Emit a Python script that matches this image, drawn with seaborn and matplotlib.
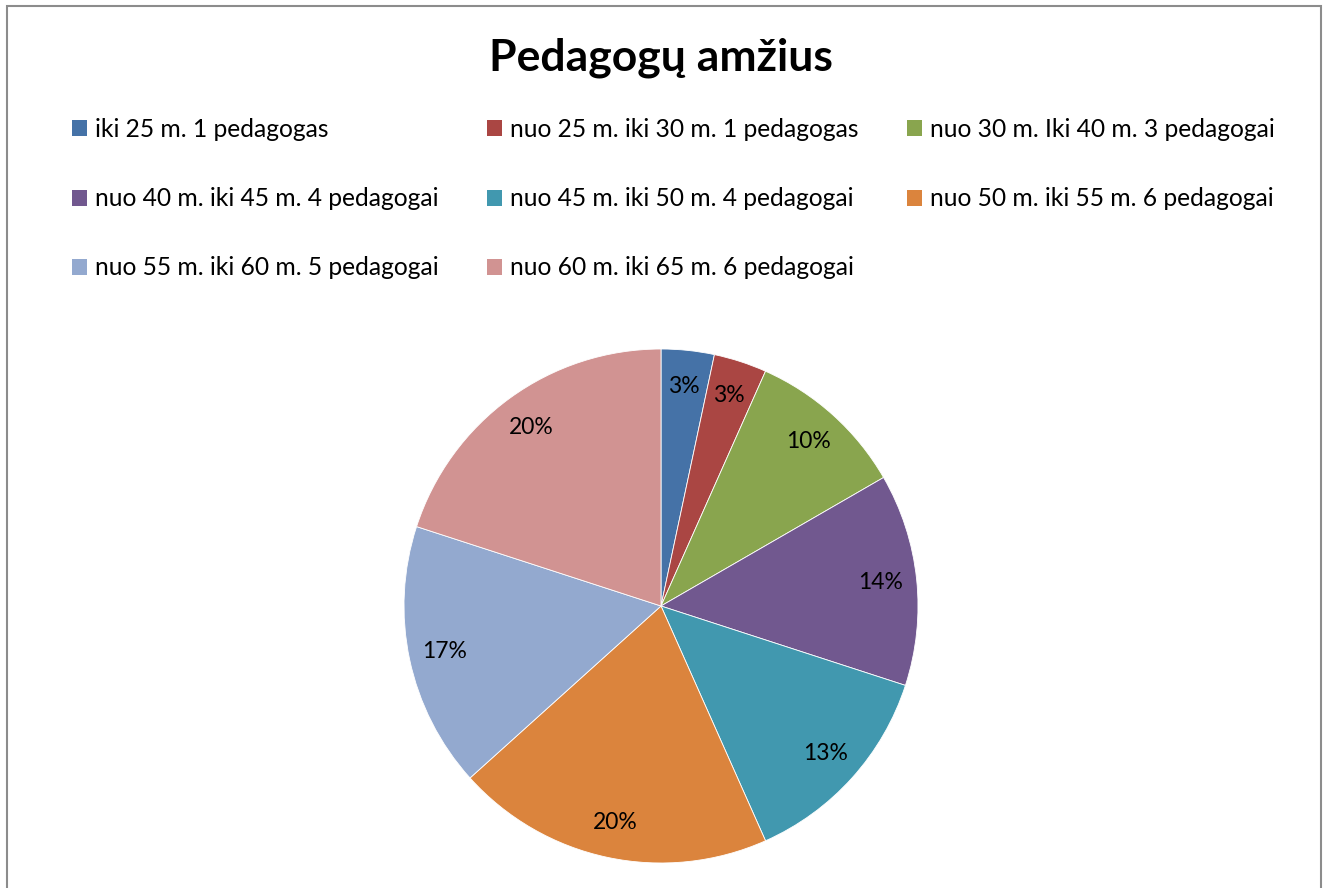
import matplotlib
matplotlib.use("Agg")
import numpy as np
import matplotlib.pyplot as plt
import seaborn as sns
from matplotlib.patches import Rectangle, Patch

# ------------------------------
# Data
# ------------------------------
categories = [
    "iki 25 m. 1 pedagogas",
    "nuo 25 m. iki 30 m. 1 pedagogas",
    "nuo 30 m. Iki 40 m. 3 pedagogai",
    "nuo 40 m. iki 45 m. 4 pedagogai",
    "nuo 45 m. iki 50 m. 4 pedagogai",
    "nuo 50 m. iki 55 m. 6 pedagogai",
    "nuo 55 m. iki 60 m. 5 pedagogai",
    "nuo 60 m. iki 65 m. 6 pedagogai",
]
counts = [1, 1, 3, 4, 4, 6, 5, 6]
pct_labels = ["3%", "3%", "10%", "14%", "13%", "20%", "17%", "20%"]
colors = ["#4572A7", "#AA4643", "#89A54E", "#71588F",
          "#4198AF", "#DB843D", "#93A9CF", "#D19392"]

sns.set_theme(style="white")
plt.rcParams['font.family'] = ['Lato', 'DejaVu Sans']
plt.rcParams['text.color'] = 'black'

W, H = 1326, 888
fig = plt.figure(figsize=(W / 100, H / 100), dpi=100)

# chart frame
fig.patches.append(Rectangle((7 / W, -0.05), (1321 - 7) / W, (H - 6) / H + 0.05,
                             transform=fig.transFigure, fill=False,
                             edgecolor="#8c8c8c", linewidth=1.5))

# pie axes: centre (661, 606) px, radius 257 px
cx, cy, r = 661, 606, 257
ax = fig.add_axes([(cx - r) / W, (H - cy - r) / H, 2 * r / W, 2 * r / H])
wedges, _ = ax.pie(counts, colors=colors, startangle=90, counterclock=False,
                   wedgeprops=dict(edgecolor="white", linewidth=0.6))
for w, lab in zip(wedges, pct_labels):
    ang = np.deg2rad((w.theta1 + w.theta2) / 2)
    ax.text(0.86 * np.cos(ang), 0.86 * np.sin(ang), lab,
            ha="center", va="center", fontsize=16.5, color="black")
ax.set_xlim(-1, 1)
ax.set_ylim(-1, 1)
ax.set_aspect("equal")
ax.axis("off")

fig.text(cx / W, 1 - 58 / H, "Pedagogų amžius", ha="center", va="center",
         fontsize=32, fontweight="bold", color="black")

# legend, row-major order as in the original
order = [0, 3, 6, 1, 4, 7, 2, 5]
handles = [Patch(facecolor=colors[i], edgecolor="none") for i in order]
labels = [categories[i] for i in order]
fig.legend(handles, labels, ncol=3, loc="upper left",
           bbox_to_anchor=(72 / W, 1 - 118 / H), frameon=False,
           fontsize=17.7, handlelength=0.62, handleheight=0.62,
           handletextpad=0.33, columnspacing=1.95, labelspacing=1.88,
           borderaxespad=0, borderpad=0)

fig.savefig("out.png", dpi=100)
